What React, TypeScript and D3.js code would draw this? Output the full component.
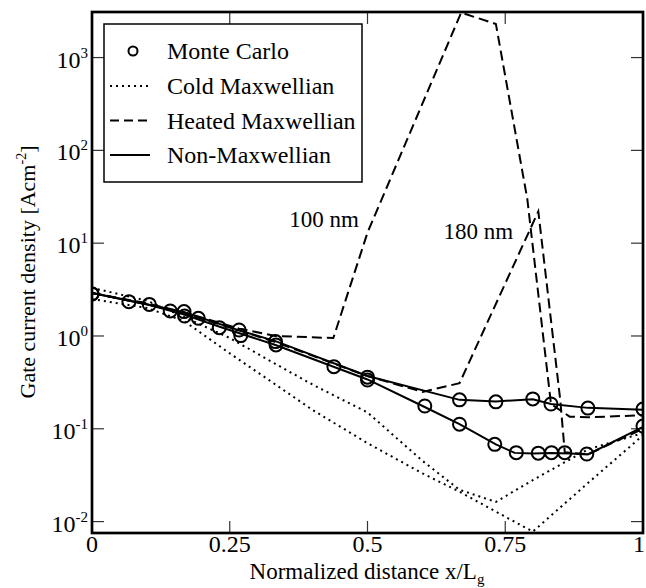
import React from 'react';
import * as d3 from 'd3';

const W = 646;
const H = 588;
const FL = 92, FR = 643, FT = 12, FB = 533;

const xTickValues = [0, 0.25, 0.5, 0.75, 1];
const xTickLabels = ['0', '0.25', '0.5', '0.75', '1'];
const yExponents = [-2, -1, 0, 1, 2, 3];

// Monte Carlo (circles)
const mcUpperX = [0, 0.167, 0.267, 0.333, 0.5, 0.667, 0.733, 0.8, 0.833, 0.9, 1.0];
const mcUpperY = [2.84, 1.83, 1.16, 0.87, 0.36, 0.205, 0.195, 0.21, 0.185, 0.167, 0.163];
const mcLowerX = [0, 0.067, 0.104, 0.142, 0.168, 0.193, 0.231, 0.27, 0.334, 0.439, 0.5, 0.604, 0.667, 0.731, 0.77, 0.81, 0.834, 0.858, 0.898, 1.0];
const mcLowerY = [2.84, 2.34, 2.19, 1.86, 1.64, 1.55, 1.23, 1.01, 0.8, 0.467, 0.335, 0.176, 0.112, 0.068, 0.0553, 0.0546, 0.0553, 0.0553, 0.0535, 0.107];

// Non-Maxwellian (solid)
const nonMaxUpperX = [0, 0.167, 0.267, 0.333, 0.5, 0.667, 0.733, 0.8, 0.833, 0.9, 1.0];
const nonMaxUpperY = [2.9, 1.8, 1.15, 0.88, 0.37, 0.205, 0.197, 0.208, 0.185, 0.168, 0.16];
const nonMaxLowerX = [0, 0.1, 0.167, 0.233, 0.333, 0.5, 0.6, 0.667, 0.733, 0.767, 0.8, 0.833, 0.867, 0.9, 1.0];
const nonMaxLowerY = [2.9, 2.2, 1.7, 1.25, 0.8, 0.34, 0.176, 0.112, 0.068, 0.055, 0.054, 0.055, 0.054, 0.053, 0.105];

// Heated Maxwellian (dashed)
const heated100X = [0, 0.1, 0.167, 0.267, 0.333, 0.438, 0.5, 0.67, 0.733, 0.79, 0.833, 0.867, 0.9, 1.0];
const heated100Y = [2.9, 2.25, 1.8, 1.2, 1.0, 0.95, 13, 3050, 2300, 30, 0.185, 0.135, 0.133, 0.14];
const heated180X = [0, 0.1, 0.167, 0.267, 0.333, 0.5, 0.6, 0.667, 0.81, 0.85, 0.858, 0.9, 1.0];
const heated180Y = [2.9, 2.2, 1.75, 1.15, 0.86, 0.37, 0.25, 0.31, 22, 0.2, 0.056, 0.053, 0.1];

// Cold Maxwellian (dotted)
const coldAX = [0, 0.1, 0.167, 0.25, 0.333, 0.4, 0.5, 0.6, 0.667, 0.733, 0.8, 0.9, 1.0];
const coldAY = [3.3, 2.4, 1.6, 0.95, 0.5, 0.3, 0.15, 0.045, 0.022, 0.0163, 0.028, 0.06, 0.09];
const coldBX = [0, 0.1, 0.167, 0.25, 0.333, 0.4, 0.5, 0.6, 0.667, 0.733, 0.8, 0.9, 1.0];
const coldBY = [2.5, 2.0, 1.45, 0.65, 0.3, 0.16, 0.07, 0.033, 0.021, 0.0128, 0.0078, 0.026, 0.085];

const legendNames = ['Monte Carlo', 'Cold Maxwellian', 'Heated Maxwellian', 'Non-Maxwellian'];
const annotations = [
  { text: '100 nm', x: 0.358, v: 14.9 },
  { text: '180 nm', x: 0.638, v: 11.1 },
];

const FONT = "'Liberation Serif', 'Nimbus Roman', 'Times New Roman', Tinos, 'DejaVu Serif', serif";

export default function App() {
  const x = d3.scaleLinear().domain([0, 1]).range([FL, FR]);
  const y = d3.scaleLog().domain([Math.pow(10, -2.123), Math.pow(10, 3.491)]).range([FB, FT]);

  const pts = (xs: number[], ys: number[]) => xs.map((v, i) => [v, ys[i]] as [number, number]);
  const line = d3.line<[number, number]>().x(d => x(d[0])).y(d => y(d[1]));

  const solid = { stroke: '#000', strokeWidth: 2, fill: 'none' };
  const dashed = { stroke: '#000', strokeWidth: 2, fill: 'none', strokeDasharray: '10,5' };
  const dotted = { stroke: '#000', strokeWidth: 2, fill: 'none', strokeDasharray: '2,4' };

  const legendRowY = [51, 86, 120.5, 155];
  const tf = { fontFamily: FONT };

  return (
    <div style={{ position: 'fixed', left: 0, top: 0 }}>
      <svg width={W} height={H} style={{ display: 'block', background: '#fff', fontFamily: FONT }}>
        <defs>
          <clipPath id="plotclip">
            <rect x={FL} y={FT} width={FR - FL} height={FB - FT} />
          </clipPath>
        </defs>
        <rect x={0} y={0} width={W} height={H} fill="#fff" />

        {/* ticks */}
        {xTickValues.map((t, i) => {
          const last = i === xTickValues.length - 1;
          return (
            <g key={'xt' + i}>
              <line x1={x(t)} x2={x(t)} y1={FB} y2={FB - 12} stroke="#333" strokeWidth={1.2} />
              <line x1={x(t)} x2={x(t)} y1={FT} y2={FT + 12} stroke="#333" strokeWidth={1.2} />
              <text style={tf} x={last ? W - 1 : x(t)} y={552} fontSize={24} textAnchor={last ? 'end' : 'middle'} fill="#000">{xTickLabels[i]}</text>
            </g>
          );
        })}
        {yExponents.map(e => {
          const yy = y(Math.pow(10, e));
          return (
            <g key={'yt' + e}>
              <line x1={FL} x2={FL + 12} y1={yy} y2={yy} stroke="#333" strokeWidth={1.2} />
              <line x1={FR} x2={FR - 12} y1={yy} y2={yy} stroke="#333" strokeWidth={1.2} />
              <text style={tf} x={88} y={yy + 10} fontSize={24} textAnchor="end" fill="#000">
                10<tspan fontSize={15} dy={-10}>{String(e)}</tspan>
              </text>
            </g>
          );
        })}

        <g clipPath="url(#plotclip)">
          <path d={line(pts(coldAX, coldAY)) || ''} {...dotted} />
          <path d={line(pts(coldBX, coldBY)) || ''} {...dotted} />
          <path d={line(pts(heated100X, heated100Y)) || ''} {...dashed} />
          <path d={line(pts(heated180X, heated180Y)) || ''} {...dashed} />
          <path d={line(pts(nonMaxUpperX, nonMaxUpperY)) || ''} {...solid} />
          <path d={line(pts(nonMaxLowerX, nonMaxLowerY)) || ''} {...solid} />
          {pts(mcUpperX, mcUpperY).map((d, i) => (
            <circle key={'mu' + i} cx={x(d[0])} cy={y(d[1])} r={6.5} fill="none" stroke="#000" strokeWidth={2} />
          ))}
          {pts(mcLowerX, mcLowerY).map((d, i) => (
            <circle key={'ml' + i} cx={x(d[0])} cy={y(d[1])} r={6.5} fill="none" stroke="#000" strokeWidth={2} />
          ))}
        </g>

        {/* frame */}
        <rect x={FL} y={FT} width={FR - FL} height={FB - FT} fill="none" stroke="#000" strokeWidth={2.7} />

        {/* annotations */}
        {annotations.map((a, i) => (
          <text style={tf} key={'an' + i} x={x(a.x)} y={y(a.v)} fontSize={23} fill="#000">{a.text}</text>
        ))}

        {/* legend */}
        <rect x={104} y={24} width={258} height={158} fill="#fff" stroke="#000" strokeWidth={1.5} />
        <circle cx={133} cy={legendRowY[0]} r={4.5} fill="none" stroke="#000" strokeWidth={2} />
        <line x1={110} x2={150} y1={legendRowY[1]} y2={legendRowY[1]} {...dotted} />
        <line x1={110} x2={150} y1={legendRowY[2]} y2={legendRowY[2]} {...dashed} strokeDasharray="9,5" />
        <line x1={110} x2={150} y1={legendRowY[3]} y2={legendRowY[3]} {...solid} />
        {legendNames.map((n, i) => (
          <text style={tf} key={'ln' + i} x={167} y={legendRowY[i] + 8} fontSize={24} fill="#000">{n}</text>
        ))}

        {/* axis titles */}
        <text style={tf} x={367} y={579} fontSize={23} textAnchor="middle" fill="#000">
          Normalized distance x/L<tspan fontSize={15} dy={5}>g</tspan>
        </text>
        <text style={tf} transform={`translate(35, 272) rotate(-90)`} fontSize={22} textAnchor="middle" fill="#000">
          Gate current density [Acm<tspan fontSize={14} dy={-9}>-2</tspan><tspan dy={9}>]</tspan>
        </text>
      </svg>
    </div>
  );
}
